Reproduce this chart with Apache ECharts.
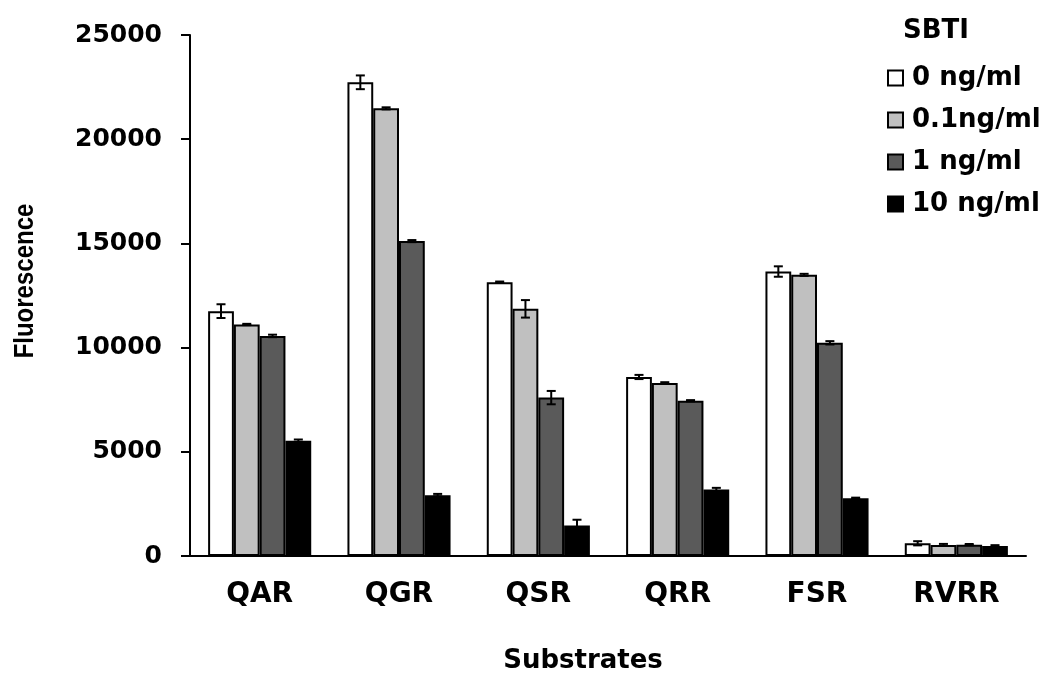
<!DOCTYPE html>
<html>
<head>
<meta charset="utf-8">
<script src="https://cdn.jsdelivr.net/npm/echarts@6/dist/echarts.min.js"></script>
<style>html,body{margin:0;padding:0;background:#fff}#c{width:1045px;height:677px}</style>
</head>
<body>
<div id="c"></div>
<script>
var categories = ['QAR', 'QGR', 'QSR', 'QRR', 'FSR', 'RVRR'];
var seriesNames = ['0 ng/ml', '0.1ng/ml', '1 ng/ml', '10 ng/ml'];
var v0 = [11750, 22730, 13140, 8590, 13650, 610];
var v1 = [11110, 21480, 11860, 8300, 13490, 530];
var v2 = [10560, 15110, 7600, 7450, 10230, 545];
var v3 = [5530, 2920, 1460, 3190, 2770, 480];
var e0 = [330, 330, 30, 100, 250, 100];
var e1 = [30, 50, 420, 40, 50, 50];
var e2 = [60, 50, 320, 30, 80, 30];
var e3 = [60, 60, 280, 80, 30, 40];
var yTicks = [0, 5000, 10000, 15000, 20000, 25000];
var colors = ['#ffffff', '#c0c0c0', '#5a5a5a', '#000000'];

var values = [v0, v1, v2, v3];
var errors = [e0, e1, e2, e3];
var CAT_GAP = 0.26;
var FONT = 'DejaVu Sans';

var series = [];
values.forEach(function (vals, i) {
  series.push({
    name: seriesNames[i],
    type: 'bar',
    data: vals,
    barGap: '0%',
    barCategoryGap: (CAT_GAP * 100) + '%',
    itemStyle: { color: colors[i], borderColor: '#000', borderWidth: 2 },
    emphasis: { disabled: true },
    z: 2
  });
});
values.forEach(function (vals, i) {
  var d = vals.map(function (v, k) { return [k, v, errors[i][k]]; });
  series.push({
    type: 'custom',
    name: 'err' + i,
    data: d,
    z: 5,
    silent: true,
    renderItem: function (params, api) {
      var k = api.value(0), v = api.value(1), e = api.value(2);
      var catW = api.size([1, 0])[0];
      var bw = catW * (1 - CAT_GAP) / 4;
      var c = api.coord([k, v]);
      var x = c[0] + (i - 1.5) * bw;
      var top = api.coord([k, v + e])[1];
      var bot = api.coord([k, v - e])[1];
      var cap = 4.5;
      var st = { stroke: '#000', lineWidth: 2 };
      return {
        type: 'group',
        children: [
          { type: 'line', shape: { x1: x, y1: top, x2: x, y2: bot }, style: st },
          { type: 'line', shape: { x1: x - cap, y1: top, x2: x + cap, y2: top }, style: st },
          { type: 'line', shape: { x1: x - cap, y1: bot, x2: x + cap, y2: bot }, style: st }
        ]
      };
    }
  });
});

var chart = echarts.init(document.getElementById('c'), null, { renderer: 'canvas' });
chart.setOption({
  animation: false,
  backgroundColor: '#fff',
  grid: { left: 190, right: 19, top: 35, bottom: 121, containLabel: false },
  title: {
    text: 'SBTI', left: 903, top: 18, padding: 0,
    textStyle: { fontFamily: FONT, fontWeight: 'bold', fontSize: 26, color: '#000' }
  },
  legend: {
    data: seriesNames,
    orient: 'vertical',
    left: 887, top: 64, padding: 0,
    itemWidth: 15, itemHeight: 15,
    itemGap: 14,
    icon: 'rect',
    selectedMode: false,
    textStyle: { fontFamily: FONT, fontWeight: 'bold', fontSize: 26, color: '#000', lineHeight: 28, padding: [0, 0, 0, 4] }
  },
  xAxis: {
    type: 'category',
    data: categories,
    axisLine: { lineStyle: { color: '#000', width: 2 } },
    axisTick: { inside: true, length: 8, lineStyle: { color: '#000', width: 2 } },
    axisLabel: { fontFamily: FONT, fontWeight: 'bold', fontSize: 28, color: '#000', margin: 25 }
  },
  yAxis: {
    type: 'value',
    min: yTicks[0], max: yTicks[yTicks.length - 1], interval: yTicks[1] - yTicks[0],
    splitLine: { show: false },
    axisLine: { show: true, lineStyle: { color: '#000', width: 2 } },
    axisTick: { show: true, length: 9, lineStyle: { color: '#000', width: 2 } },
    axisLabel: { fontFamily: FONT, fontWeight: 'bold', fontSize: 25, color: '#000', margin: 28,
      formatter: function (v) { return String(v); } }
  },
  graphic: [
    { type: 'text', x: 583, y: 661, style: { text: 'Substrates', fontFamily: FONT, fontWeight: 'bold', fontSize: 26, fill: '#000', align: 'center', verticalAlign: 'middle' } },
    { type: 'text', x: 25, y: 281, rotation: Math.PI / 2, scaleY: 1.15, style: { text: 'Fluorescence', fontFamily: 'Liberation Sans', fontWeight: 'bold', fontSize: 24, fill: '#000', align: 'center', verticalAlign: 'middle' } }
  ],
  series: series
});
</script>
</body>
</html>
